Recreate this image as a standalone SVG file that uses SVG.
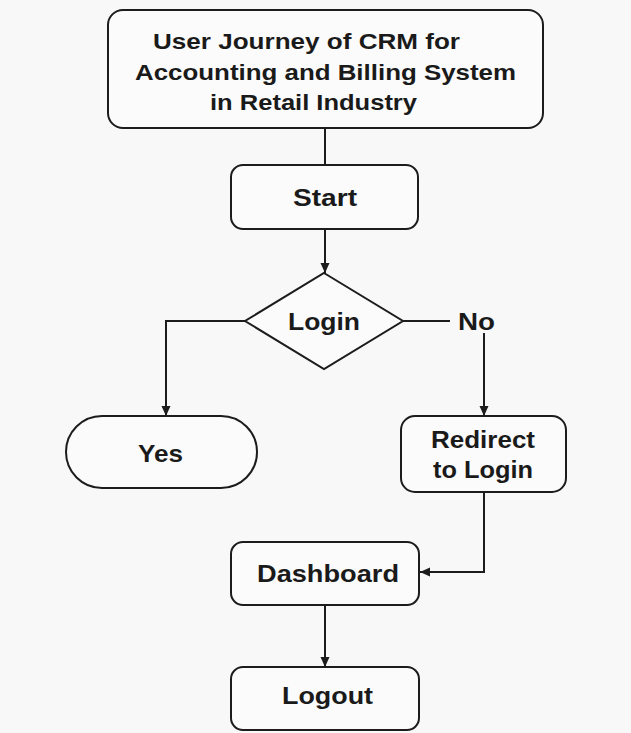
<svg xmlns="http://www.w3.org/2000/svg" width="631" height="733" viewBox="0 0 631 733">
<style>
.box{fill:#fbfbfb;stroke:#1c1c1c;stroke-width:2}
.ln{fill:none;stroke:#1c1c1c;stroke-width:2}
.t{font-family:"Liberation Sans",Arial,sans-serif;font-weight:bold;fill:#1a1a1a}
.tt{font-size:22.5px}
.tn{font-size:24px}
</style>
<defs>
<marker id="ah" viewBox="0 0 10 10" refX="10" refY="5" markerWidth="10" markerHeight="10" orient="auto" markerUnits="userSpaceOnUse">
<path d="M0,0.5 L10,5 L0,9.5 z" fill="#1c1c1c"/>
</marker>
</defs>
<rect width="631" height="733" fill="#f8f8f8"/>
<g id="connectors">
<line class="ln" x1="325" y1="128" x2="325" y2="165"/>
<line class="ln" x1="325" y1="229" x2="325" y2="273" marker-end="url(#ah)"/>
<polyline class="ln" points="245,321 166,321 166,416" marker-end="url(#ah)"/>
<line class="ln" x1="403" y1="321" x2="450" y2="321"/>
<line class="ln" x1="484" y1="333" x2="484" y2="416" marker-end="url(#ah)"/>
<polyline class="ln" points="484,492 484,572 420,572" marker-end="url(#ah)"/>
<line class="ln" x1="325" y1="605" x2="325" y2="667" marker-end="url(#ah)"/>
<text class="t tn" x="458" y="330" textLength="37" lengthAdjust="spacingAndGlyphs">No</text>
</g>
<g id="title">
<rect class="box" x="108" y="10" width="435" height="118" rx="15"/>
<text class="t tt" x="153" y="49" textLength="307" lengthAdjust="spacingAndGlyphs">User Journey of CRM for</text>
<text class="t tt" x="135" y="80" textLength="381" lengthAdjust="spacingAndGlyphs">Accounting and Billing System</text>
<text class="t tt" x="210" y="110" textLength="207" lengthAdjust="spacingAndGlyphs">in Retail Industry</text>
</g>
<g id="start">
<rect class="box" x="231" y="165" width="187" height="64" rx="12"/>
<text class="t tn" x="293" y="206" textLength="64" lengthAdjust="spacingAndGlyphs">Start</text>
</g>
<g id="login">
<polygon class="box" points="324,273 403,321 324,369 245,321"/>
<text class="t tn" x="288" y="330" textLength="72" lengthAdjust="spacingAndGlyphs">Login</text>
</g>
<g id="yes">
<rect class="box" x="66" y="416" width="191" height="72" rx="36"/>
<text class="t tn" x="138" y="462" textLength="45" lengthAdjust="spacingAndGlyphs">Yes</text>
</g>
<g id="redirect">
<rect class="box" x="401" y="416" width="165" height="76" rx="14"/>
<text class="t tn" x="431" y="448" textLength="104" lengthAdjust="spacingAndGlyphs">Redirect</text>
<text class="t tn" x="433" y="478" textLength="100" lengthAdjust="spacingAndGlyphs">to Login</text>
</g>
<g id="dashboard">
<rect class="box" x="231" y="542" width="188" height="63" rx="12"/>
<text class="t tn" x="257" y="582" textLength="142" lengthAdjust="spacingAndGlyphs">Dashboard</text>
</g>
<g id="logout">
<rect class="box" x="231" y="667" width="188" height="63" rx="12"/>
<text class="t tn" x="282" y="704" textLength="91" lengthAdjust="spacingAndGlyphs">Logout</text>
</g>
</svg>
